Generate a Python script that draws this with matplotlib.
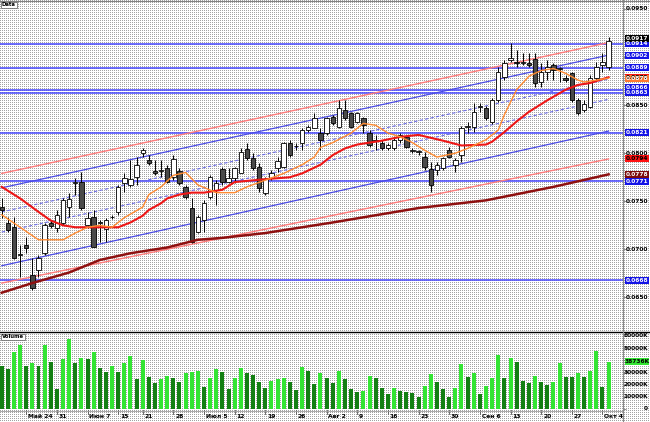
import numpy as np
import matplotlib
matplotlib.use("Agg")
import matplotlib.pyplot as plt
from matplotlib.patches import Rectangle
from matplotlib.lines import Line2D
from matplotlib import transforms

W, H = 650, 422

# daily candles, 18 May - 5 Oct 2004 (one entry per trading day)
OPEN = [0.0744, 0.0727, 0.0723, 0.0694, 0.0705, 0.0673, 0.0679, 0.0696, 0.0727, 0.0722,
        0.0727, 0.0744, 0.0769, 0.0770, 0.0725, 0.0734, 0.0727, 0.0721, 0.0734, 0.0739,
        0.0769, 0.0767, 0.0775, 0.0800, 0.0793, 0.0781, 0.0782, 0.0785, 0.0775, 0.0781,
        0.0765, 0.0743, 0.0718, 0.0731, 0.0754, 0.0762, 0.0784, 0.0770, 0.0774, 0.0779,
        0.0804, 0.0795, 0.0786, 0.0759, 0.0774, 0.0785, 0.0786, 0.0811, 0.0807, 0.0811,
        0.0824, 0.0826, 0.0821, 0.0821, 0.0838, 0.0827, 0.0845, 0.0842, 0.0832, 0.0837,
        0.0821, 0.0814, 0.0811, 0.0805, 0.0805, 0.0814, 0.0817, 0.0802, 0.0801, 0.0796,
        0.0784, 0.0783, 0.0785, 0.0803, 0.0788, 0.0798, 0.0827, 0.0827, 0.0848, 0.0847,
        0.0832, 0.0855, 0.0879, 0.0897, 0.0895, 0.0894, 0.0894, 0.0898, 0.0874, 0.0884,
        0.0892, 0.0888, 0.0878, 0.0883, 0.0855, 0.0845, 0.0848, 0.0878, 0.0892, 0.0890]
HIGH = [0.0753, 0.0734, 0.0734, 0.0705, 0.0713, 0.0691, 0.0694, 0.0727, 0.0731, 0.0741,
        0.0753, 0.0759, 0.0774, 0.0780, 0.0739, 0.0741, 0.0731, 0.0733, 0.0736, 0.0767,
        0.0779, 0.0793, 0.0796, 0.0805, 0.0798, 0.0793, 0.0793, 0.0788, 0.0798, 0.0785,
        0.0767, 0.0753, 0.0736, 0.0751, 0.0777, 0.0772, 0.0786, 0.0785, 0.0786, 0.0805,
        0.0811, 0.0800, 0.0790, 0.0775, 0.0783, 0.0796, 0.0812, 0.0814, 0.0811, 0.0826,
        0.0829, 0.0842, 0.0826, 0.0838, 0.0840, 0.0855, 0.0855, 0.0843, 0.0843, 0.0838,
        0.0824, 0.0819, 0.0814, 0.0811, 0.0816, 0.0821, 0.0819, 0.0805, 0.0803, 0.0801,
        0.0791, 0.0791, 0.0796, 0.0806, 0.0795, 0.0828, 0.0832, 0.0852, 0.0852, 0.0849,
        0.0857, 0.0890, 0.0897, 0.0915, 0.0907, 0.0904, 0.0904, 0.0904, 0.0894, 0.0897,
        0.0894, 0.0890, 0.0881, 0.0884, 0.0857, 0.0855, 0.0881, 0.0895, 0.0904, 0.0921]
LOW = [0.0733, 0.0718, 0.0690, 0.0671, 0.0696, 0.0658, 0.0671, 0.0694, 0.0722, 0.0718,
       0.0725, 0.0734, 0.0757, 0.0741, 0.0722, 0.0702, 0.0708, 0.0708, 0.0732, 0.0736,
       0.0760, 0.0765, 0.0767, 0.0796, 0.0788, 0.0777, 0.0775, 0.0769, 0.0772, 0.0767,
       0.0752, 0.0707, 0.0717, 0.0718, 0.0752, 0.0746, 0.0767, 0.0769, 0.0769, 0.0779,
       0.0793, 0.0783, 0.0760, 0.0757, 0.0772, 0.0780, 0.0785, 0.0796, 0.0803, 0.0803,
       0.0822, 0.0826, 0.0803, 0.0819, 0.0829, 0.0826, 0.0835, 0.0826, 0.0831, 0.0821,
       0.0806, 0.0803, 0.0803, 0.0803, 0.0803, 0.0811, 0.0805, 0.0800, 0.0798, 0.0783,
       0.0760, 0.0777, 0.0783, 0.0795, 0.0780, 0.0791, 0.0821, 0.0822, 0.0843, 0.0835,
       0.0830, 0.0853, 0.0876, 0.0895, 0.0890, 0.0892, 0.0890, 0.0869, 0.0869, 0.0876,
       0.0876, 0.0874, 0.0874, 0.0853, 0.0840, 0.0843, 0.0847, 0.0876, 0.0884, 0.0886]
CLOSE = [0.0741, 0.0720, 0.0691, 0.0695, 0.0701, 0.0660, 0.0691, 0.0725, 0.0724, 0.0736,
         0.0751, 0.0752, 0.0770, 0.0743, 0.0733, 0.0703, 0.0728, 0.0731, 0.0734, 0.0765,
         0.0774, 0.0773, 0.0788, 0.0803, 0.0790, 0.0779, 0.0783, 0.0770, 0.0794, 0.0769,
         0.0754, 0.0708, 0.0734, 0.0748, 0.0775, 0.0769, 0.0770, 0.0774, 0.0785, 0.0801,
         0.0795, 0.0785, 0.0764, 0.0773, 0.0779, 0.0792, 0.0811, 0.0798, 0.0808, 0.0824,
         0.0827, 0.0837, 0.0814, 0.0837, 0.0831, 0.0847, 0.0837, 0.0827, 0.0842, 0.0829,
         0.0809, 0.0813, 0.0805, 0.0809, 0.0814, 0.0819, 0.0806, 0.0803, 0.0802, 0.0786,
         0.0767, 0.0788, 0.0795, 0.0796, 0.0793, 0.0826, 0.0828, 0.0843, 0.0849, 0.0837,
         0.0855, 0.0884, 0.0894, 0.0899, 0.0894, 0.0895, 0.0892, 0.0873, 0.0884, 0.0890,
         0.0886, 0.0889, 0.0876, 0.0855, 0.0842, 0.0851, 0.0878, 0.0890, 0.0895, 0.0917]
# volume, thousands
VOLUME = [35580, 32870, 47080, 52590, 35330, 38040, 35330, 52590, 38870, 16190,
          41090, 57270, 37550, 41660, 40840, 46590, 33440, 30160, 35330, 30650,
          37550, 43550, 24900, 40260, 26540, 21610, 24650, 27120, 25470, 22430,
          29330, 30160, 31220, 17830, 25720, 32870, 30650, 16430, 25720, 33440,
          29330, 27940, 22430, 17010, 23010, 24650, 25200, 21940, 15610, 34760,
          31470, 20540, 29330, 25720, 21120, 31220, 24650, 16430, 14220, 14800,
          27360, 25230, 17500, 12330, 17010, 14540, 13720, 13150, 9610, 18900,
          28760, 22430, 16190, 9610, 17500, 36730, 26050, 29330, 12080, 18900,
          25720, 44370, 25720, 42150, 38370, 23250, 21610, 27120, 22430, 19470,
          22430, 37550, 26540, 26000, 29330, 26540, 31220, 47910, 17830, 38736]

DATE_TICKS = [4, 9, 14, 19, 23, 28, 33, 38, 43, 48, 53, 58, 63, 68, 73, 78, 83, 88, 93, 98]
DATE_LABELS = ["Май 24", "31", "Июн 7", "15", "21", "28", "Июл 5", "12", "19", "26",
               "Авг 2", "9", "16", "23", "30", "Сен 6", "13", "20", "27", "Окт 4"]

# moving averages
FAST_X = [0, 3, 6, 10, 12, 14, 16, 18, 20, 23, 24, 26, 28, 30, 32, 35, 38, 40, 43, 46,
          49, 51, 52, 54, 57, 59, 61, 63, 65, 67, 69, 71, 74, 76, 79, 81, 82, 84, 86, 88,
          90, 92, 94, 95, 97, 99]
FAST_MA = [0.0736, 0.0723, 0.0710, 0.0710, 0.0717, 0.0723, 0.0725, 0.0723, 0.0733, 0.0744,
           0.0757, 0.0765, 0.0777, 0.0780, 0.0767, 0.0759, 0.0759, 0.0765, 0.0772, 0.0779,
           0.0788, 0.0796, 0.0806, 0.0811, 0.0821, 0.0831, 0.0829, 0.0821, 0.0817, 0.0811,
           0.0803, 0.0796, 0.0800, 0.0805, 0.0814, 0.0824, 0.0840, 0.0866, 0.0880, 0.0886,
           0.0888, 0.0883, 0.0876, 0.0874, 0.0876, 0.0878]
MID_X = [0, 3, 6, 8, 10, 12, 16, 19, 21, 23, 24, 26, 27, 29, 31, 33, 36, 38, 43, 47,
         49, 50, 52, 54, 56, 58, 62, 65, 68, 72, 75, 79, 80, 82, 84, 86, 89, 92, 94, 96, 99]
MID_MA = [0.0765, 0.0753, 0.0739, 0.0730, 0.0725, 0.0723, 0.0723, 0.0723, 0.0728, 0.0735,
          0.0741, 0.0748, 0.0753, 0.0757, 0.0759, 0.0759, 0.0762, 0.0770, 0.0773, 0.0775,
          0.0779, 0.0782, 0.0788, 0.0798, 0.0805, 0.0809, 0.0813, 0.0817, 0.0819, 0.0813,
          0.0808, 0.0809, 0.0812, 0.0822, 0.0833, 0.0843, 0.0855, 0.0866, 0.0871, 0.0873,
          0.0879]
SLOW_X = [0, 5, 11, 16, 21, 27, 32, 36, 43, 54, 68, 79, 90, 99]
SLOW_MA = [0.0655, 0.0665, 0.0676, 0.0689, 0.0696, 0.0702, 0.0710, 0.0712, 0.0717, 0.0728,
           0.0743, 0.0751, 0.0765, 0.0778]

# horizontal support / resistance levels
LEVELS = [0.0914, 0.0889, 0.0866, 0.0863, 0.0821, 0.0771, 0.0668]

# trend channel, value at first and last candle
CHANNEL_X = [0, 99]
PINK_UP = [0.0779, 0.0915]
BLUE_UP = [0.0764, 0.0902]
DASH_1 = [0.0739, 0.0877]
DASH_2 = [0.0718, 0.0856]
BLUE_LOW = [0.0683, 0.0823]
PINK_LOW = [0.0665, 0.0794]

PRICE_TICKS = [0.0650, 0.0700, 0.0750, 0.0800, 0.0850, 0.0900, 0.0950]
VOL_TICKS = [0, 10000, 20000, 30000, 40000, 50000, 60000]

PX_PER_PRICE = 9620.0
PX_PER_VOL = 12.17 / 10000.0


def fig_y(px):
    return 1 - px / H


def main():
    plt.rcParams["font.family"] = ["DejaVu Sans"]
    fig = plt.figure(figsize=(W / 100, H / 100), dpi=100)
    fig.patch.set_facecolor("white")

    # dotted window backdrop
    yy, xx = np.mgrid[0:H, 0:W]
    bg = np.ones((H, W, 3))
    bg[(xx % 2 == 0) & (yy % 2 == 0)] = 0.64
    fig.figimage(bg, xo=0, yo=0, origin="upper", zorder=-10)

    right = 623 / W
    ax = fig.add_axes([0, fig_y(332), right, 332 / H])
    axv = fig.add_axes([0, fig_y(410), right, 78 / H], sharex=ax)
    for a in (ax, axv):
        a.set_facecolor("none")
        for s in a.spines.values():
            s.set_visible(False)
        a.tick_params(left=False, labelleft=False, bottom=False, labelbottom=False,
                      right=True, labelright=False, direction="out", length=2,
                      width=0.6, color="#777777")

    ax.set_xlim(-0.28, 101.35)
    ax.set_ylim(0.0900 - 275 / PX_PER_PRICE, 0.0900 + 57 / PX_PER_PRICE)
    ax.set_yticks(PRICE_TICKS)
    axv.set_ylim(-1 / PX_PER_VOL, 77 / PX_PER_VOL)
    axv.set_yticks(VOL_TICKS)

    idx = np.arange(len(CLOSE))
    o = np.array(OPEN)
    c = np.array(CLOSE)
    up = c >= o

    # levels and channel
    for lv in LEVELS:
        ax.axhline(lv, color="#4646ff", lw=1.1, zorder=2)
    ax.plot(CHANNEL_X, PINK_UP, color="#ff7b7b", lw=1.0, zorder=2)
    ax.plot(CHANNEL_X, PINK_LOW, color="#ff7b7b", lw=1.0, zorder=2)
    ax.plot(CHANNEL_X, BLUE_UP, color="#4a4ae6", lw=0.9, zorder=2)
    ax.plot(CHANNEL_X, BLUE_LOW, color="#4a4ae6", lw=0.9, zorder=2)
    ax.plot(CHANNEL_X, DASH_1, color="#6c6ce8", lw=0.8, ls=(0, (3, 2)), zorder=2)
    ax.plot(CHANNEL_X, DASH_2, color="#6c6ce8", lw=0.8, ls=(0, (3, 2)), zorder=2)

    # candles
    ax.vlines(idx, LOW, HIGH, color="black", lw=0.7, zorder=3)
    body_lo = np.minimum(o, c)
    body_h = np.maximum(np.abs(c - o), 0.00001)
    ax.bar(idx, body_h, bottom=body_lo, width=0.72,
           color=["white" if u else "#4a4a4a" for u in up],
           edgecolor="black", linewidth=0.6, zorder=4)

    # moving averages
    ax.plot(SLOW_X, SLOW_MA, color="#8e1010", lw=1.8, zorder=5)
    ax.plot(MID_X, MID_MA, color="#ee1616", lw=1.5, zorder=5)
    ax.plot(FAST_X, FAST_MA, color="#ff8a30", lw=1.0, zorder=5)

    # volume, coloured by rise/fall against the previous day
    vol = np.array(VOLUME)
    rising = np.concatenate([[False], vol[1:] > vol[:-1]])
    axv.bar(idx, vol, width=0.65, lw=0,
            color=["#33e433" if r else "#137f13" for r in rising])

    tr = transforms.blended_transform_factory(fig.transFigure, ax.transData)
    tag_h = 7 / PX_PER_PRICE

    def tag(value, fc, tc, pos=None):
        pos = value if pos is None else pos
        ax.add_patch(Rectangle((625 / W, pos - tag_h / 2), 24 / W, tag_h, transform=tr,
                               facecolor=fc, edgecolor="none", clip_on=False, zorder=9))
        ax.text(637 / W, pos, f"{value:.4f}", transform=tr, ha="center", va="center",
                fontsize=4.2, fontweight="bold", color=tc, zorder=10, clip_on=False)

    # value tags on the price scale, pushed apart upward where they collide
    tags = [(v, "#1414e6", "white") for v in LEVELS]
    tags += [(BLUE_UP[-1], "#1414e6", "white"), (PINK_LOW[-1], "#ff1212", "black"),
             (CLOSE[-1], "black", "white")]
    tags.sort(key=lambda t: t[0])
    gap = 5.5 / PX_PER_PRICE
    placed = []
    last = None
    for v, fc, tc in tags:
        pos = v if last is None or v >= last + gap else last + gap
        placed.append((v, fc, tc, pos))
        last = pos
    ma_tags = [(SLOW_MA[-1], "#7c0c0c", "white"), (MID_MA[-1], "#ff1212", "black"),
               (FAST_MA[-1], "#ff7a30", "white")]
    occupied = [t[3] for t in placed] + [t[0] for t in ma_tags]

    # right-hand price scale, hidden where a tag sits on top
    for p in PRICE_TICKS:
        if min(abs(p - q) for q in occupied) < 0.5 * tag_h:
            continue
        ax.text(648 / W, p, f"{p:.4f}", transform=tr, ha="right", va="center",
                fontsize=4.2, fontweight="bold", zorder=8)

    for v, fc, tc, pos in placed:
        if fc != "black":
            tag(v, fc, tc, pos)
    for v, fc, tc in ma_tags:
        tag(v, fc, tc)
    for v, fc, tc, pos in placed:
        if fc == "black":
            tag(v, fc, tc, pos)

    # right-hand volume scale
    trv = transforms.blended_transform_factory(fig.transFigure, axv.transData)
    vh = 7 / PX_PER_VOL
    for v in VOL_TICKS:
        if abs(v - VOLUME[-1]) < 0.5 * vh:
            continue
        axv.text(648 / W, v, f"{v}K" if v else "0", transform=trv, ha="right",
                 va="center", fontsize=4.2, fontweight="bold", zorder=8)
    axv.add_patch(Rectangle((625 / W, VOLUME[-1] - vh / 2), 24 / W, vh, transform=trv,
                            facecolor="#33e433", edgecolor="none", clip_on=False, zorder=9))
    axv.text(637 / W, VOLUME[-1], f"{VOLUME[-1]}K", transform=trv, ha="center",
             va="center", fontsize=4.2, fontweight="bold", zorder=10)

    # date row
    trd = transforms.blended_transform_factory(ax.transData, fig.transFigure)
    for i, lab in zip(DATE_TICKS, DATE_LABELS):
        ax.text(i + 0.3, fig_y(416.5), lab, transform=trd, ha="left", va="center",
                fontsize=4.3, fontweight="bold")
        ax.add_line(Line2D([i, i], [fig_y(410), fig_y(414)], transform=trd,
                           color="#555555", lw=0.6, clip_on=False))

    # frame lines
    fig.add_artist(Line2D([0, 1], [fig_y(332)] * 2, color="black", lw=1.0))
    fig.add_artist(Line2D([0, right], [fig_y(410.5)] * 2, color="#9a9a9a", lw=0.6))
    fig.add_artist(Line2D([right] * 2, [0, 1], color="#8a8a8a", lw=0.8))
    fig.add_artist(Line2D([0, 1], [fig_y(0.5)] * 2, color="#808080", lw=0.8))

    box = dict(facecolor="white", edgecolor="#555555", lw=0.5, pad=0.6)
    fig.text(2 / W, fig_y(5), "Data", fontsize=3.8, fontweight="bold", va="center", bbox=box)
    fig.text(2 / W, fig_y(337), "Volume", fontsize=3.8, fontweight="bold", va="center", bbox=box)

    fig.savefig("out.png", dpi=100)


if __name__ == "__main__":
    main()
